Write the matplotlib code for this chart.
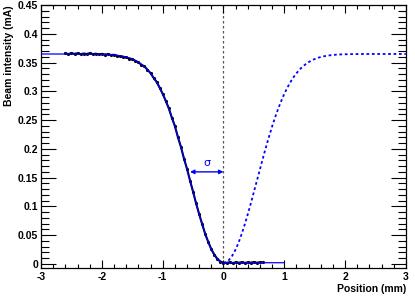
import numpy as np
import matplotlib
matplotlib.use('Agg')
import matplotlib.pyplot as plt
from matplotlib.ticker import MultipleLocator, FormatStrFormatter

plt.rcParams['font.family'] = ['Liberation Sans', 'DejaVu Sans']
plt.rcParams['axes.unicode_minus'] = False

# measured beam intensity (mA) vs scraper position (mm)
pos = [-2.60, -2.55, -2.50, -2.45, -2.40, -2.35, -2.30, -2.25, -2.20, -2.15,
       -2.10, -2.05, -2.00, -1.95, -1.90, -1.85, -1.80, -1.75, -1.70, -1.65,
       -1.60, -1.55, -1.50, -1.45, -1.40, -1.35, -1.30, -1.25, -1.20, -1.15,
       -1.10, -1.05, -1.00, -0.95, -0.90, -0.85, -0.80, -0.75, -0.70, -0.65,
       -0.60, -0.55, -0.50, -0.45, -0.40, -0.35, -0.30, -0.25, -0.20, -0.15,
       -0.10, -0.05, 0.00, 0.05, 0.10, 0.15, 0.20, 0.25, 0.30, 0.35,
       0.40, 0.45, 0.50, 0.55, 0.60, 0.65]
intensity = [0.3660, 0.3648, 0.3665, 0.3652, 0.3662, 0.3645, 0.3658, 0.3650, 0.3663, 0.3647,
             0.3655, 0.3644, 0.3652, 0.3640, 0.3648, 0.3632, 0.3636, 0.3618, 0.3612, 0.3600,
             0.3592, 0.3570, 0.3562, 0.3530, 0.3505, 0.3462, 0.3435, 0.3375, 0.3318, 0.3235,
             0.3165, 0.3065, 0.2958, 0.2835, 0.2708, 0.2545, 0.2400, 0.2205, 0.2035, 0.1830,
             0.1655, 0.1448, 0.1255, 0.1050, 0.0865, 0.0690, 0.0520, 0.0380, 0.0255, 0.0160,
             0.0085, 0.0040, 0.0022, 0.0018, 0.0028, 0.0015, 0.0025, 0.0019, 0.0030, 0.0017,
             0.0026, 0.0021, 0.0032, 0.0020, 0.0029, 0.0024]

# gaussian fit parameters
fit_amp = 0.363
fit_sigma = 0.55
fit_offset = 0.002
arrow_y = 0.16


def fit_func(x):
    x = np.asarray(x)
    y = fit_offset + fit_amp * (1 - np.exp(-x**2 / (2 * fit_sigma**2)))
    return np.where(x < 0, y, fit_offset)


fig = plt.figure(figsize=(4.15, 3.0), dpi=100)
ax = fig.add_axes([0.099, 0.107, 0.879, 0.876])

xs = np.linspace(-3, 1, 400)
ax.plot(pos, intensity, '-', color='black', lw=1.5, marker='.', markersize=2.5, zorder=2)
ax.plot(xs, fit_func(xs), '-', color='blue', lw=0.9, zorder=3)
xm = np.linspace(0, 3, 300)
ax.plot(xm, fit_func(-xm), color='blue', lw=1.3, linestyle=(0, (1.5, 1.5)), zorder=3)

ax.axvline(0, color='#555555', lw=0.9, linestyle=(0, (2, 2)), zorder=1)

ax.annotate('', xy=(-fit_sigma, arrow_y), xytext=(0, arrow_y),
            arrowprops=dict(arrowstyle='<|-|>', color='blue', lw=1.0,
                            mutation_scale=6, shrinkA=0, shrinkB=0))
ax.text(-fit_sigma / 2, arrow_y + 0.006, 'σ', color='blue', fontsize=8,
        ha='center', va='bottom', family=['DejaVu Sans'])

ax.set_xlim(-3, 3)
ax.set_ylim(-0.007, 0.45)
ax.xaxis.set_major_locator(MultipleLocator(1))
ax.xaxis.set_minor_locator(MultipleLocator(0.2))
ax.yaxis.set_major_locator(MultipleLocator(0.05))
ax.yaxis.set_minor_locator(MultipleLocator(0.01))
ax.yaxis.set_major_formatter(FormatStrFormatter('%g'))
ax.xaxis.set_major_formatter(FormatStrFormatter('%g'))

ax.tick_params(axis='both', which='both', direction='in', top=True, right=True,
               labelsize=7.5, width=0.8)
ax.tick_params(axis='x', which='major', length=6, pad=3)
ax.tick_params(axis='x', which='minor', length=3)
ax.tick_params(axis='y', which='major', length=11, pad=2)
ax.tick_params(axis='y', which='minor', length=5.5)
for lab in ax.get_xticklabels() + ax.get_yticklabels():
    lab.set_fontweight('bold')
for sp in ax.spines.values():
    sp.set_linewidth(0.9)

ax.set_xlabel('Position (mm)', fontsize=7.5, fontweight='bold', loc='right')
ax.set_ylabel('Beam intensity (mA)', fontsize=7.5, fontweight='bold', loc='top')
ax.xaxis.set_label_coords(1.0, -0.062)
ax.yaxis.set_label_coords(-0.074, 1.0)

fig.savefig('out.png', dpi=100)
